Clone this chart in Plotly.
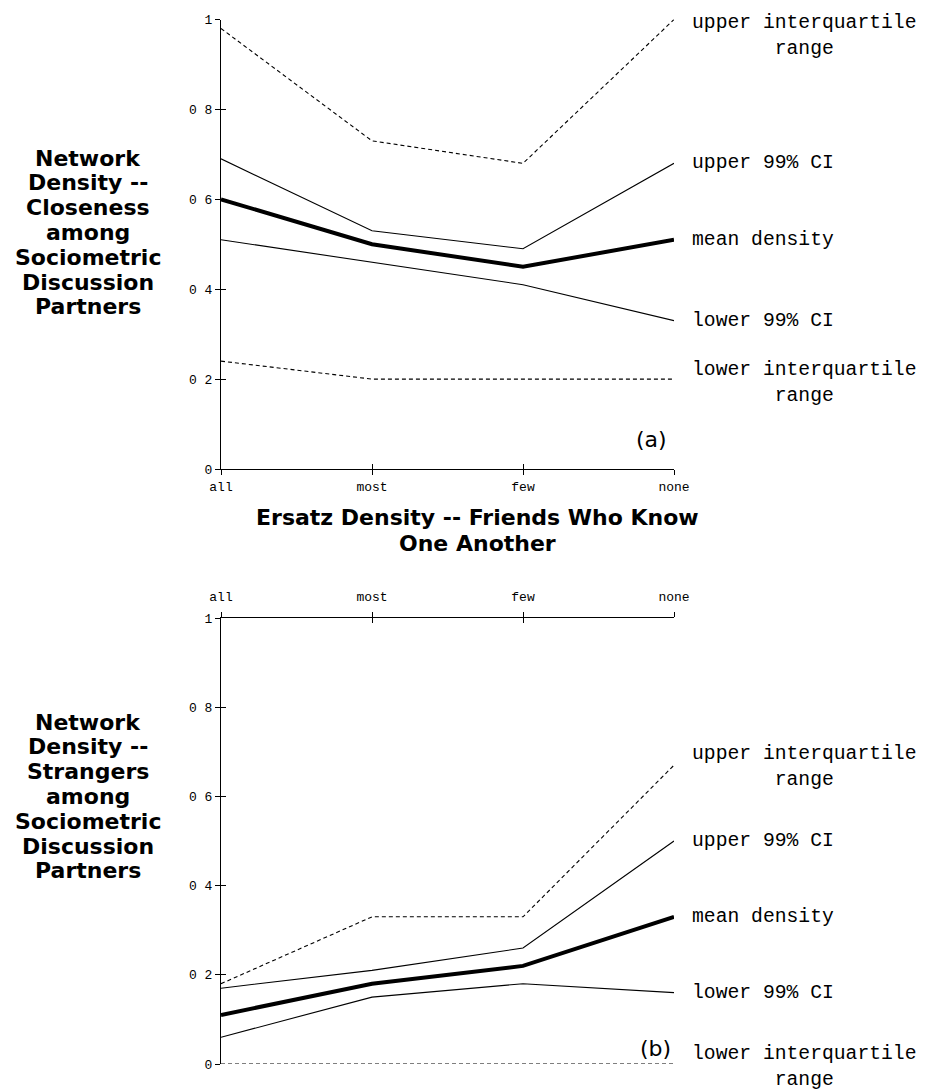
import plotly.graph_objects as go

# ---------------- data ----------------
categories = ["all", "most", "few", "none"]
ytick_vals = [0, 0.2, 0.4, 0.6, 0.8, 1]
ytick_text = ["0", "0 2", "0 4", "0 6", "0 8", "1"]

a_upper_iqr = [0.98, 0.73, 0.68, 1.00]
a_upper_ci = [0.69, 0.53, 0.49, 0.68]
a_mean = [0.60, 0.50, 0.45, 0.51]
a_lower_ci = [0.51, 0.46, 0.41, 0.33]
a_lower_iqr = [0.24, 0.20, 0.20, 0.20]

b_upper_iqr = [0.18, 0.33, 0.33, 0.67]
b_upper_ci = [0.17, 0.21, 0.26, 0.50]
b_mean = [0.11, 0.18, 0.22, 0.33]
b_lower_ci = [0.06, 0.15, 0.18, 0.16]
b_lower_iqr = [0.00, 0.00, 0.00, 0.00]

series_names = ["upper interquartile range", "upper 99% CI", "mean density",
                "lower 99% CI", "lower interquartile range"]
top_title = ["Network", "Density --", "Closeness", "among", "Sociometric",
             "Discussion", "Partners"]
bottom_title = ["Network", "Density --", "Strangers", "among", "Sociometric",
                "Discussion", "Partners"]
x_title = ["Ersatz Density -- Friends Who Know", "One Another"]

# ---------------- layout helpers ----------------
# the page body has an 8px margin, so the figure is drawn 8px in from the
# window corner; positions below are given in window pixels
OFF = 8
W, H = 926 - OFF, 1092 - OFF


def px(x):
    return (x - OFF) / W


def py(y):
    return 1 - (y - OFF) / H


X0, X1 = 221, 674
TOP_Y0, TOP_Y1 = 469, 19.5
BOT_Y0, BOT_Y1 = 1064, 618

MONO = "Liberation Mono, DejaVu Sans Mono, monospace"
SANS = "DejaVu Sans, Verdana, sans-serif"

thin = dict(color="black", width=1.1)
thick = dict(color="black", width=4)
dashed = dict(color="black", width=1.1, dash="4px,3px")
styles = [dashed, thin, thick, thin, dashed]

fig = go.Figure()
# last series of each panel sits on an overlay axis pair that draws the
# inward half of the crossing tick marks
for i, (vals, st, nm) in enumerate(zip(
        [a_upper_iqr, a_upper_ci, a_mean, a_lower_ci, a_lower_iqr],
        styles, series_names)):
    xa, ya = ("x3", "y3") if i == 4 else ("x", "y")
    fig.add_trace(go.Scatter(x=categories, y=vals, mode="lines", line=st,
                             name=nm, xaxis=xa, yaxis=ya, showlegend=False))
for i, (vals, st, nm) in enumerate(zip(
        [b_upper_iqr, b_upper_ci, b_mean, b_lower_ci, b_lower_iqr],
        styles, series_names)):
    xa, ya = ("x4", "y4") if i == 4 else ("x2", "y2")
    fig.add_trace(go.Scatter(x=categories, y=vals, mode="lines", line=st,
                             name=nm, xaxis=xa, yaxis=ya, showlegend=False))

xdom = [px(X0), px(X1)]
top_dom = [py(TOP_Y0), py(TOP_Y1)]
bot_dom = [py(BOT_Y0), py(BOT_Y1)]

tickfont = dict(family=MONO, size=13, color="black")
common_x = dict(type="category", categoryorder="array", categoryarray=categories,
                range=[0, 3], showgrid=False, zeroline=False,
                showline=True, linecolor="black", linewidth=1.2,
                ticks="outside", ticklen=5, tickwidth=1, tickcolor="black",
                tickfont=tickfont, domain=xdom, fixedrange=True,
                automargin=False)
common_y = dict(range=[0, 1], showgrid=False, zeroline=False,
                showline=True, linecolor="black", linewidth=1.2,
                ticks="outside", ticklen=5, tickwidth=1, tickcolor="black",
                tickmode="array", tickvals=ytick_vals, ticktext=ytick_text,
                tickfont=tickfont, fixedrange=True, automargin=False)
over_x = dict(type="category", categoryorder="array", categoryarray=categories,
              range=[0, 3], showgrid=False, zeroline=False,
              showline=False, ticks="inside", ticklen=5, tickwidth=1,
              tickcolor="black", showticklabels=False, domain=xdom,
              fixedrange=True, automargin=False)
over_y = dict(range=[0, 1], showgrid=False, zeroline=False, showline=False,
              ticks="inside", ticklen=5, tickwidth=1, tickcolor="black",
              tickmode="array", tickvals=ytick_vals, showticklabels=False,
              fixedrange=True, automargin=False)

fig.update_layout(
    width=W, height=H,
    margin=dict(l=0, r=0, t=0, b=0),
    paper_bgcolor="white", plot_bgcolor="rgba(0,0,0,0)",
    xaxis=dict(common_x, anchor="y", side="bottom"),
    yaxis=dict(common_y, anchor="x", domain=top_dom),
    xaxis2=dict(common_x, anchor="y2", side="top", ticklabelstandoff=6),
    yaxis2=dict(common_y, anchor="x2", domain=bot_dom),
    xaxis3=dict(over_x, anchor="y3", overlaying="x", side="bottom"),
    yaxis3=dict(over_y, anchor="x3", overlaying="y", domain=top_dom),
    xaxis4=dict(over_x, anchor="y4", overlaying="x2", side="top"),
    yaxis4=dict(over_y, anchor="x4", overlaying="y2", domain=bot_dom),
)

ann = []
labfont = dict(family=MONO, size=19.7, color="black")


def right_label(text, yval, yref, dy=0):
    ann.append(dict(text=text, x=px(690), xref="paper", xanchor="left",
                    y=yval, yref=yref, yanchor="middle", yshift=dy,
                    showarrow=False, font=labfont, align="center"))


# top panel series labels
right_label("upper interquartile<br>range", py(36), "paper")
right_label(series_names[1], a_upper_ci[-1], "y")
right_label(series_names[2], a_mean[-1], "y")
right_label(series_names[3], a_lower_ci[-1], "y")
right_label("lower interquartile<br>range", a_lower_iqr[-1], "y", dy=-4)
# bottom panel series labels
right_label("upper interquartile<br>range", b_upper_iqr[-1], "y2", dy=-2)
right_label(series_names[1], b_upper_ci[-1], "y2")
right_label(series_names[2], b_mean[-1], "y2")
right_label(series_names[3], b_lower_ci[-1], "y2")
right_label("lower interquartile<br>range", b_lower_iqr[-1], "y2", dy=-3)

titlefont = dict(family=SANS, size=22, color="black", weight="bold")
for i, line in enumerate(top_title):
    ann.append(dict(text=line, x=px(88), xref="paper", xanchor="center",
                    y=py(158 + 24.8 * i), yref="paper", yanchor="middle",
                    showarrow=False, font=titlefont))
for i, line in enumerate(bottom_title):
    ann.append(dict(text=line, x=px(88), xref="paper", xanchor="center",
                    y=py(722 + 24.8 * i), yref="paper", yanchor="middle",
                    showarrow=False, font=titlefont))
for i, line in enumerate(x_title):
    ann.append(dict(text=line, x=px(477), xref="paper", xanchor="center",
                    y=py(518 + 25 * i), yref="paper", yanchor="middle",
                    showarrow=False, font=titlefont))

panelfont = dict(family=SANS, size=22, color="black")
ann.append(dict(text="(a)", x=px(651), xref="paper", xanchor="center",
                y=py(440), yref="paper", yanchor="middle", showarrow=False,
                font=panelfont))
ann.append(dict(text="(b)", x=px(655), xref="paper", xanchor="center",
                y=py(1048), yref="paper", yanchor="middle", showarrow=False,
                font=panelfont))

fig.update_layout(annotations=ann)
fig.write_html("out.html")
